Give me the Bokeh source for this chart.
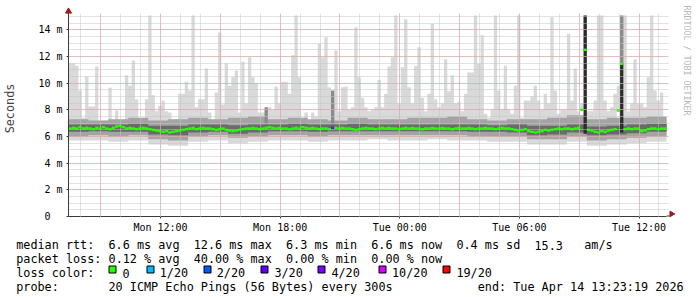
import calendar
from datetime import datetime, timedelta
from math import pi

from bokeh.plotting import figure
from bokeh.layouts import column, row
from bokeh.models import (Range1d, FixedTicker, DatetimeTickFormatter, ColumnDataSource)
from bokeh.core.properties import value
from bokeh.embed import file_html
from bokeh.resources import INLINE

# ---------------- data ----------------
START = datetime(2026, 4, 13, 7, 23)
N_BINS = 180                      # 10-minute bins over 30 hours
BIN = timedelta(minutes=10)

# max ping of each 10-minute bin (ms)
ping_max = [
    11.5, 11.5, 11.3, 9.45, 7.4, 10.5, 8.25, 8.25, 11.25, 7.0,
    7.2, 7.2, 9.65, 7.2, 7.95, 7.0, 7.0, 10.6, 9.8, 11.7,
    8.8, 7.2, 7.2, 8.8, 15.07, 9.1, 7.9, 8.3, 8.7, 7.9,
    7.8, 7.2, 7.3, 9.2, 9.2, 10.1, 9.45, 15.07, 8.2, 8.8,
    8.8, 11.1, 7.8, 7.2, 9.3, 13.8, 8.4, 11.5, 9.8, 10.45,
    10.95, 7.8, 11.6, 8.5, 11.95, 10.45, 10.0, 7.8, 7.8, 8.1,
    8.2, 8.0, 9.75, 8.5, 10.1, 10.1, 9.2, 12.1, 15.07, 10.45,
    7.4, 7.8, 7.2, 7.8, 7.5, 12.95, 11.95, 13.45, 9.7, 8.6,
    12.45, 7.9, 9.7, 9.75, 8.0, 8.2, 14.2, 10.45, 8.9, 8.2,
    7.9, 8.0, 8.2, 10.25, 8.2, 9.2, 11.25, 11.95, 15.07, 8.5,
    11.2, 14.8, 9.7, 8.5, 11.3, 12.7, 8.9, 7.9, 9.2, 14.45,
    8.8, 8.2, 8.5, 11.8, 9.4, 10.6, 8.5, 8.6, 7.9, 9.2,
    10.8, 10.8, 15.07, 11.45, 13.6, 7.7, 7.4, 8.0, 15.07, 9.45,
    8.0, 11.3, 8.0, 7.7, 9.8, 15.07, 7.4, 8.7, 8.7, 9.0,
    9.8, 8.7, 8.0, 9.2, 8.5, 14.95, 9.45, 7.7, 8.0, 8.0,
    13.7, 8.7, 11.1, 7.9, 8.5, 15.07, 7.9, 7.9, 8.7, 15.07,
    15.07, 8.7, 7.9, 8.2, 9.2, 9.8, 15.07, 15.07, 7.9, 8.5,
    11.8, 8.5, 8.5, 8.2, 10.45, 15.07, 9.45, 8.7, 9.3, 7.4,
]

# median rtt of each 10-minute bin (ms)
median = [
    6.6, 6.65, 6.6, 6.7, 6.6, 6.65,   6.6, 6.55, 6.65, 6.6, 6.7, 6.6,
    6.55, 6.65, 6.75, 6.8, 6.7, 6.6,  6.65, 6.6, 6.55, 6.6, 6.65, 6.6,
    6.55, 6.5, 6.45, 6.4, 6.35, 6.4,  6.3, 6.35, 6.4, 6.45, 6.5, 6.55,
    6.6, 6.65, 6.55, 6.6, 6.65, 6.6,  6.6, 6.55, 6.5, 6.55, 6.6, 6.5,
    6.45, 6.4, 6.45, 6.5, 6.55, 6.6,  6.6, 6.65, 6.6, 6.55, 6.6, 6.65,
    6.7, 6.65, 6.6, 6.65, 6.6, 6.6,   6.55, 6.6, 6.65, 6.6, 6.7, 6.65,
    6.6, 6.65, 6.6, 6.55, 6.6, 6.6,   6.55, 6.65, 6.65, 6.6, 6.65, 6.6,
    6.6, 6.55, 6.5, 6.55, 6.6, 6.65,  6.6, 6.6, 6.55, 6.6, 6.65, 6.6,
    6.65, 6.6, 6.6, 6.55, 6.6, 6.65,  6.6, 6.65, 6.6, 6.6, 6.55, 6.6,
    6.6, 6.65, 6.6, 6.6, 6.65, 6.6,   6.6, 6.55, 6.6, 6.65, 6.6, 6.6,
    6.65, 6.6, 6.55, 6.6, 6.6, 6.65,  6.6, 6.6, 6.55, 6.6, 6.65, 6.6,
    6.6, 6.55, 6.5, 6.45, 6.5, 6.55,  6.4, 6.35, 6.3, 6.35, 6.4, 6.5,
    6.45, 6.5, 6.55, 6.6, 6.55, 6.6,  6.6, 6.55, 6.6, 6.65, 8.0, 12.5,
    6.5, 6.45, 6.35, 6.3, 6.4, 6.35,  6.45, 6.5, 6.55, 7.95, 11.45, 6.55,
    6.6, 6.55, 6.6, 6.6, 6.4, 6.45,   6.55, 6.6, 6.6, 6.55, 6.6, 6.6,
]

# lost pings (of 20) -- all other bins lost none
loss_bin = [79]
loss_count = [8]

# hourly smoke bands (ms)
lo_min = [5.7, 5.7, 5.6, 5.7, 5.4, 5.3, 5.6, 5.7, 5.5, 5.6, 5.7, 5.7, 5.6, 5.7, 5.7,
          5.8, 5.7, 5.7, 5.8, 5.7, 5.7, 5.6, 5.6, 5.4, 5.4, 5.6, 5.3, 5.4, 5.5, 5.6]
lo_q = [6.0, 6.1, 6.0, 6.1, 5.8, 5.7, 6.0, 6.1, 5.9, 6.0, 6.1, 6.1, 6.0, 6.1, 6.1,
        6.1, 6.1, 6.1, 6.1, 6.1, 6.0, 6.0, 6.0, 5.8, 5.8, 6.0, 5.7, 5.8, 5.9, 6.0]
dk_lo = [6.35, 6.4, 6.35, 6.35, 6.15, 6.1, 6.3, 6.35, 6.2, 6.3, 6.4, 6.4, 6.35, 6.4, 6.4,
         6.4, 6.4, 6.4, 6.4, 6.4, 6.35, 6.35, 6.3, 6.1, 6.15, 6.3, 6.1, 6.15, 6.25, 6.35]
dk_hi = [6.9, 6.9, 6.9, 6.95, 6.8, 6.8, 6.9, 6.9, 6.85, 6.9, 6.9, 6.95, 6.9, 6.9, 6.95,
         6.9, 6.9, 6.9, 6.9, 6.9, 6.9, 6.85, 6.9, 6.8, 6.8, 6.9, 6.75, 6.8, 6.9, 6.95]
hi_q = [7.3, 7.2, 7.3, 7.4, 7.2, 7.3, 7.4, 7.3, 7.4, 7.5, 7.3, 7.4, 7.3, 7.2, 7.4,
        7.3, 7.3, 7.4, 7.4, 7.5, 7.3, 7.2, 7.3, 7.3, 7.4, 7.6, 7.3, 7.4, 7.4, 7.5]

# denser smoke columns
mid_spike_bin = [59, 79, 166]
mid_spike_top = [8.2, 9.45, 15.07]
black_spike_bin = [155, 166]
black_spike_bottom = [6.2, 6.3]
black_spike_top = [15.07, 11.5]

# y-axis ticks / labels
Y_TOP = 15.225
y_ticks = [0, 2, 4, 6, 8, 10, 12, 14]
y_labels = ["0\u00a0\u00a0", "2 m", "4 m", "6 m", "8 m", "10 m", "12 m", "14 m"]

# loss legend
loss_thresholds = [0, 1, 2, 3, 4, 10, 19]
loss_names = ["0", "1/20", "2/20", "3/20", "4/20", "10/20", "19/20"]

row1 = "median rtt:  6.6 ms avg  12.6 ms max  6.3 ms min  6.6 ms now  0.4 ms sd  15.3   am/s"
row2 = "packet loss: 0.12 % avg  40.00 % max  0.00 % min  0.00 % now"
row3 = "loss color:"
row4a = "probe:       20 ICMP Echo Pings (56 Bytes) every 300s"
row4b = "end: Tue Apr 14 13:23:19 2026"
credit = "RRDTOOL / TOBI OETIKER"

# ---------------- styles ----------------
LOSS_COLORS = ["#26ff00", "#00b8ff", "#0059ff", "#5e00ff", "#7e00ff", "#dd00ff", "#ff0000"]
LIGHT, MID, DARK = "#d9d9d9", "#a4a4a4", "#6a6a6a"
MIDSPIKE, BLACK = "#8a8a8a", "#2c2c2c"
FONT = "DejaVu Sans Mono"
ARROW_C = "#a01818"
AXIS_C = "#3a3a3a"

W, H = 697, 297
FRAME_L, FRAME_R, FRAME_B = 66, 666, 216
PX_PER_MS = 13.333
MIN_PER_PX = 3.0
CHART_BOTTOM = 236


def ms(dt):
    return calendar.timegm(dt.timetuple()) * 1000.0


def px_after_end(n):
    """time that lies n pixels right of the end of the graph area"""
    return ms(END + timedelta(minutes=n * MIN_PER_PX))


END = START + N_BINS * BIN
edges = [ms(START + i * BIN) for i in range(N_BINS + 1)]
hour_edges = [ms(START + timedelta(hours=h)) for h in range(31)]


def stepped(v):
    return list(v) + [v[-1]]


# ---------------- main chart ----------------
# the frame reaches the top and right page edges so that the axis arrows and the
# credit line can be drawn inside it; a white band masks the grid there
p = figure(width=W, height=CHART_BOTTOM, x_axis_type="datetime",
           output_backend="svg", toolbar_location=None, title=None,
           x_range=Range1d(ms(START), px_after_end(W - FRAME_R)),
           y_range=Range1d(0, FRAME_B / PX_PER_MS),
           min_border_left=FRAME_L, min_border_right=0, min_border_top=0,
           min_border_bottom=CHART_BOTTOM - FRAME_B)
p.outline_line_color = None
p.background_fill_color = "white"
p.border_fill_color = "white"

# smoke
p.varea_step(x=hour_edges, y1=stepped(lo_min), y2=stepped(dk_hi), fill_color=LIGHT,
             step_mode="after")
p.varea_step(x=edges, y1=stepped(median), y2=stepped(ping_max), fill_color=LIGHT,
             step_mode="after")
p.varea_step(x=hour_edges, y1=stepped(lo_q), y2=stepped(hi_q), fill_color=MID,
             step_mode="after")
p.quad(left=[edges[b] for b in mid_spike_bin], right=[edges[b + 1] for b in mid_spike_bin],
       bottom=[median[b] for b in mid_spike_bin], top=mid_spike_top,
       fill_color=MIDSPIKE, line_color=None)
p.varea_step(x=hour_edges, y1=stepped(dk_lo), y2=stepped(dk_hi), fill_color=DARK,
             step_mode="after")
p.quad(left=[edges[b] for b in black_spike_bin], right=[edges[b + 1] for b in black_spike_bin],
       bottom=black_spike_bottom, top=black_spike_top, fill_color=BLACK, line_color=None)

# median coloured by loss
loss = [0] * N_BINS
for b, c in zip(loss_bin, loss_count):
    loss[b] = c


def loss_color(c):
    idx = max(i for i, t in enumerate(loss_thresholds) if c >= t)
    return LOSS_COLORS[idx]


msrc = ColumnDataSource(dict(x0=edges[:-1], x1=edges[1:], y=median,
                             color=[loss_color(c) for c in loss]))
med = p.segment(x0="x0", y0="y", x1="x1", y1="y", source=msrc, line_color="color",
                line_width=2.4)
med.level = "overlay"

# grids
major_x = [ms(datetime(2026, 4, 13, 9) + timedelta(hours=3 * k)) for k in range(10)]
minor_x = [ms(datetime(2026, 4, 13, 8) + timedelta(hours=k)) for k in range(30)]
label_x = [ms(datetime(2026, 4, 13, 12) + timedelta(hours=6 * k)) for k in range(5)]

p.xgrid.ticker = FixedTicker(ticks=major_x, minor_ticks=minor_x)
p.ygrid.ticker = FixedTicker(ticks=y_ticks[1:], minor_ticks=[k * 0.5 for k in range(1, 31)])
for g in (p.xgrid, p.ygrid):
    g.grid_line_color = "#e49a9a"
    g.grid_line_dash = "1 1"
    g.grid_line_width = 1
    g.minor_grid_line_color = "#c4c4c4"
    g.minor_grid_line_dash = "1 1"
    g.level = "annotation"

# white bands above and right of the graph area (hide the grid there)
y_page_top = FRAME_B / PX_PER_MS
x_page_right = px_after_end(W - FRAME_R)
mask = p.quad(left=[ms(START), px_after_end(2)], right=[px_after_end(2), x_page_right],
              bottom=[Y_TOP, 0], top=[y_page_top, y_page_top],
              fill_color="white", line_color=None)
mask.level = "overlay"

# axis extensions with arrow heads (x arrow kept just inside the frame)
half_px = 0.5 / PX_PER_MS
ext = p.segment(x0=[ms(START), ms(END)], y0=[0, half_px], x1=[ms(START), px_after_end(4)],
                y1=[Y_TOP + 0.12, half_px], line_color=AXIS_C, line_width=1)
ext.level = "overlay"
heads = p.scatter(x=[ms(START), px_after_end(5)], y=[Y_TOP + 0.16, 2.6 / PX_PER_MS],
                  marker="triangle", size=[6, 5.5], angle=[0, -pi / 2],
                  fill_color=ARROW_C, line_color=ARROW_C)
heads.level = "overlay"

# credit line, written downwards along the right edge
cred = p.text(x=[px_after_end(20)], y=[(FRAME_B - 5) / PX_PER_MS], text=[credit],
              angle=-pi / 2, text_align="left", text_baseline="middle",
              text_font=value(FONT), text_font_size=value("8.3px"), text_color="#b8b8b8")
cred.level = "overlay"

# axes
p.xaxis.ticker = FixedTicker(ticks=label_x)
p.xaxis.bounds = (ms(START), ms(END))
p.xaxis.formatter = DatetimeTickFormatter(hours="%a %H:%M", days="%a %H:%M",
                                          hourmin="%a %H:%M", minutes="%a %H:%M",
                                          months="%a %H:%M")
p.yaxis.ticker = FixedTicker(ticks=y_ticks)
p.yaxis.bounds = (0, Y_TOP)
p.yaxis.major_label_overrides = {t: lab for t, lab in zip(y_ticks, y_labels)}
for ax in (p.xaxis, p.yaxis):
    ax.axis_line_color = AXIS_C
    ax.major_tick_line_color = AXIS_C
    ax.major_tick_out = 2
    ax.major_tick_in = 0
    ax.minor_tick_out = 0
    ax.minor_tick_in = 0
    ax.major_label_text_font = FONT
    ax.major_label_text_font_size = "10px"
    ax.major_label_text_color = "black"
p.xaxis.major_label_standoff = 3
p.yaxis.major_label_standoff = 4
p.yaxis.axis_label = "Seconds"
p.yaxis.axis_label_text_font = FONT
p.yaxis.axis_label_text_font_size = "11.8px"
p.yaxis.axis_label_text_font_style = "normal"
p.yaxis.axis_label_standoff = 18

# ---------------- legend area (data units = page pixels, y downward) ----------------
leg = figure(width=W, height=H - CHART_BOTTOM, output_backend="svg",
             toolbar_location=None, title=None,
             x_range=Range1d(0, W), y_range=Range1d(H, CHART_BOTTOM),
             x_axis_location=None, y_axis_location=None,
             min_border=0, min_border_left=0, min_border_right=0,
             min_border_top=0, min_border_bottom=0)
leg.grid.visible = False
leg.outline_line_color = None
leg.background_fill_color = "white"
leg.border_fill_color = "white"

CW = 7.1
X0 = 15.7


def tokens(line):
    """split a monospace line on runs of 2+ blanks -> (column, text)"""
    out, i = [], 0
    while i < len(line):
        if line[i] == " ":
            i += 1
            continue
        j = i
        while j < len(line) and not (line[j] == " " and (j + 1 >= len(line) or line[j + 1] == " ")):
            j += 1
        out.append((i, line[i:j]))
        i = j
    return out


tx, ty, tt = [], [], []
for line, base, x0 in ((row1, 244.5, X0), (row2, 258.5, X0), (row3, 272.5, X0),
                       (row4a, 286.5, X0), (row4b, 286.5, X0 + 65 * CW)):
    for c, t in tokens(line):
        tx.append(x0 + c * CW)
        ty.append(base)
        tt.append(t)

sw_left = [108.5, 146.5, 203.5, 260.5, 317.5, 378.5, 442.5]
name_x = [121.9, 159.2, 216.2, 273.9, 330.9, 391.5, 455.9]
for nx, name in zip(name_x, loss_names):
    tx.append(nx)
    ty.append(272.5)
    tt.append(name)

leg.text(x=tx, y=ty, text=tt, text_font=value(FONT), text_font_size=value("11.8px"),
         text_baseline="alphabetic", text_align="left", text_color="black")
leg.quad(left=sw_left, right=[v + 7 for v in sw_left], top=[265.5] * len(sw_left),
         bottom=[272.5] * len(sw_left), fill_color=LOSS_COLORS, line_color="black",
         line_width=1)

layout = column(row(p, spacing=0), leg, spacing=0)
open("out.html", "w").write(file_html(layout, INLINE))
